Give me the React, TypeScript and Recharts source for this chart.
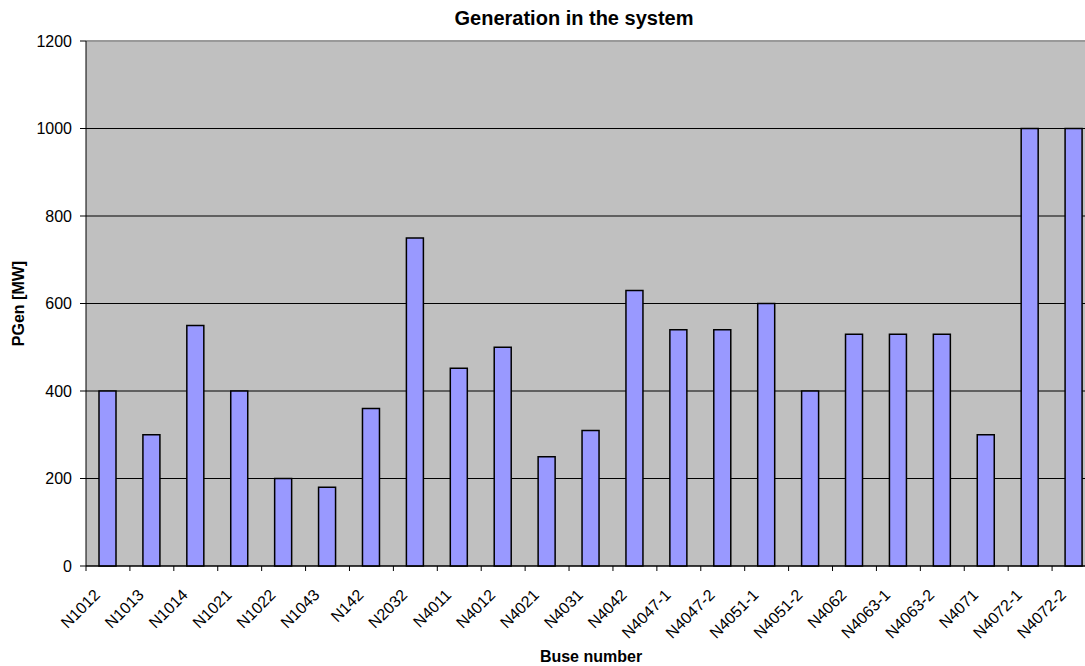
import React from 'react';
import { BarChart, Bar, XAxis, YAxis, CartesianGrid, ReferenceLine } from 'recharts';

const buses = [
  'N1012', 'N1013', 'N1014', 'N1021', 'N1022', 'N1043', 'N142', 'N2032',
  'N4011', 'N4012', 'N4021', 'N4031', 'N4042', 'N4047-1', 'N4047-2', 'N4051-1',
  'N4051-2', 'N4062', 'N4063-1', 'N4063-2', 'N4071', 'N4072-1', 'N4072-2',
];
const pgen = [
  400, 300, 550, 400, 200, 180, 360, 750,
  452, 500, 250, 310, 630, 540, 540, 600,
  400, 530, 530, 530, 300, 1000, 1000,
];
const yTicks = [0, 200, 400, 600, 800, 1000, 1200];

const data = buses.map((name, i) => ({ name, value: pgen[i] }));

const CHART_W = 1100;
const CHART_H = 666;
const MARGIN = { top: 41, right: 4, left: 0, bottom: 0 };
const Y_AXIS_W = 86;
const BAND = (CHART_W - MARGIN.left - MARGIN.right - Y_AXIS_W) / buses.length;
const FONT = '"Liberation Sans", Arial, sans-serif';

const BusTick = (props: any) => {
  const { x, y, payload, index } = props;
  const half = BAND / 2;
  return (
    <g>
      <line x1={x - half} y1={y} x2={x - half} y2={y + 5} stroke="#000" />
      {index === buses.length - 1 && (
        <line x1={x + half} y1={y} x2={x + half} y2={y + 5} stroke="#000" />
      )}
      <text
        transform={`translate(${x - 7},${y + 30}) rotate(-45)`}
        textAnchor="end"
        fontSize={16}
        fill="#000"
        fontFamily={FONT}
      >
        {payload.value}
      </text>
    </g>
  );
};

const YLabel = (props: any) => {
  const { viewBox } = props;
  const cy = viewBox.y + viewBox.height / 2;
  return (
    <text
      transform={`translate(${viewBox.x + 24},${cy}) rotate(-90)`}
      textAnchor="middle"
      fontSize={16}
      fontWeight="bold"
      fill="#000"
      fontFamily={FONT}
    >
      PGen  [MW]
    </text>
  );
};

const XLabel = (props: any) => {
  const { viewBox } = props;
  return (
    <text
      x={viewBox.x + viewBox.width / 2}
      y={viewBox.y + 96}
      textAnchor="middle"
      fontSize={16}
      fontWeight="bold"
      fill="#000"
      fontFamily={FONT}
    >
      Buse number
    </text>
  );
};

export default function App() {
  return (
    <div
      style={{
        position: 'fixed',
        left: 0,
        top: 0,
        width: 1085,
        height: 666,
        overflow: 'hidden',
        background: '#fff',
      }}
    >
      <svg
        width={1085}
        height={40}
        style={{ position: 'absolute', left: 0, top: 0, zIndex: 1 }}
      >
        <text
          x={574}
          y={25}
          textAnchor="middle"
          fontSize={20}
          fontWeight="bold"
          fill="#000"
          fontFamily={FONT}
        >
          Generation in the system
        </text>
      </svg>
      <BarChart
        width={CHART_W}
        height={CHART_H}
        data={data}
        margin={MARGIN}
        barSize={17}
        style={{ fontFamily: FONT }}
      >
        <CartesianGrid vertical={false} stroke="#000" fill="#C0C0C0" fillOpacity={1} />
        <XAxis
          dataKey="name"
          interval={0}
          height={100}
          tickSize={0}
          tickMargin={0}
          tickLine={false}
          axisLine={{ stroke: '#000' }}
          tick={<BusTick />}
          label={<XLabel />}
        />
        <YAxis
          width={Y_AXIS_W}
          domain={[0, 1200]}
          ticks={yTicks}
          interval={0}
          tickSize={6}
          tickMargin={8}
          tickLine={{ stroke: '#000' }}
          axisLine={{ stroke: '#000' }}
          tick={{ fill: '#000', fontSize: 16, fontFamily: FONT }}
          label={<YLabel />}
        />
        <ReferenceLine y={1200} stroke="#999" strokeWidth={2} />
        <Bar
          dataKey="value"
          fill="#9999FF"
          stroke="#000"
          strokeWidth={1.5}
          isAnimationActive={false}
        />
      </BarChart>
    </div>
  );
}
